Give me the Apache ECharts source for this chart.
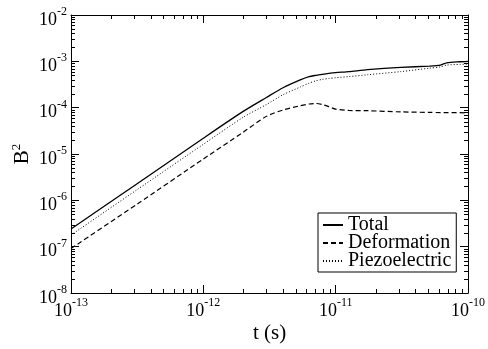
<!DOCTYPE html>
<html>
<head>
<meta charset="utf-8">
<script src="https://cdn.jsdelivr.net/npm/echarts@6/dist/echarts.min.js"></script>
<style>html,body{margin:0;padding:0;background:#fff}#c{width:488px;height:349px}</style>
</head>
<body>
<div id="c"></div>
<script>
// time (s)
const tVals = [1e-13, 3.16e-13, 1e-12, 2e-12, 3e-12, 4e-12, 5.4e-12, 6.3e-12, 7.1e-12, 7.9e-12, 8.9e-12, 1e-11, 1.26e-11, 1.74e-11, 3.1e-11, 5.1e-11, 6.2e-11, 6.9e-11, 8.7e-11, 1e-10];
// B^2 values
const totalVals = [2.4e-7, 2.29e-6, 2.19e-5, 8.3e-5, 1.66e-4, 2.69e-4, 3.98e-4, 4.68e-4, 5.0e-4, 5.25e-4, 5.5e-4, 5.7e-4, 6.0e-4, 6.6e-4, 7.4e-4, 7.9e-4, 8.3e-4, 9.3e-4, 9.8e-4, 1.0e-3];
const deformationVals = [9.1e-8, 8.3e-7, 7.8e-6, 2.95e-5, 6.5e-5, 8.9e-5, 1.1e-4, 1.2e-4, 1.23e-4, 1.17e-4, 1.05e-4, 9.3e-5, 8.7e-5, 8.6e-5, 8.1e-5, 7.9e-5, 7.85e-5, 7.8e-5, 7.8e-5, 7.7e-5];
const piezoVals = [1.78e-7, 1.70e-6, 1.62e-5, 6.2e-5, 1.17e-4, 1.9e-4, 2.79e-4, 3.39e-4, 3.8e-4, 4.07e-4, 4.27e-4, 4.42e-4, 4.68e-4, 5.13e-4, 6.0e-4, 7.1e-4, 7.6e-4, 8.3e-4, 8.6e-4, 8.7e-4];
const seriesNames = ['Total', 'Deformation', 'Piezoelectric'];
const xMin = 1e-13, xMax = 1e-10, yMin = 1e-8, yMax = 1e-2;

const pair = (ys) => tVals.map((t, i) => [t, ys[i]]);
function minorValues(lo, hi) {
  const out = [];
  for (let e = Math.round(Math.log10(lo)); e < Math.round(Math.log10(hi)); e++) {
    for (let m = 2; m <= 9; m++) out.push(m * Math.pow(10, e));
  }
  return out;
}
const FONT = '"Liberation Serif", "DejaVu Serif", serif';
const expLabel = (v) => '{a|10}{b|' + Math.round(Math.log10(v)) + '}';
const labelRich = {
  a: {fontSize: 18, fontFamily: FONT, color: '#000'},
  b: {fontSize: 12, fontFamily: FONT, color: '#000', padding: [0, 0, 16, 0]}
};
const axisCommon = {
  type: 'log', logBase: 10,
  axisLine: {show: true, lineStyle: {color: '#000', width: 1}},
  axisTick: {show: true, inside: true, length: 8, lineStyle: {color: '#000', width: 1}},
  splitLine: {show: false},
  minorTick: {show: false},
};
const chart = echarts.init(document.getElementById('c'), null, {renderer: 'canvas'});
const lineStyleFor = [
  {color: '#000', width: 1.3, type: 'solid'},
  {color: '#000', width: 1.2, type: [5, 3]},
  {color: '#000', width: 1, type: [1, 2]}
];
const valsFor = [totalVals, deformationVals, piezoVals];
chart.setOption({
  animation: false,
  backgroundColor: '#fff',
  grid: {left: 71, right: 20, top: 15, bottom: 55},
  legend: {
    data: seriesNames, orient: 'vertical', left: 318, top: 213,
    borderColor: '#000', borderWidth: 1, borderRadius: 0,
    padding: [2, 5, 1, 4], itemWidth: 20, itemHeight: 12, itemGap: -2,
    itemStyle: {color: 'rgba(0,0,0,0)', borderWidth: 0, opacity: 0},
    textStyle: {fontFamily: FONT, fontSize: 20, color: '#000'},
    inactiveColor: '#000'
  },
  xAxis: [
    Object.assign({}, axisCommon, {
      min: xMin, max: xMax, position: 'bottom',
      name: 't (s)', nameLocation: 'middle', nameGap: 30, nameMoveOverlap: false,
      nameTextStyle: {fontFamily: FONT, fontSize: 21, color: '#000'},
      axisLabel: {show: true, formatter: expLabel, rich: labelRich, margin: 4, showMinLabel: true, showMaxLabel: true, hideOverlap: false}
    }),
    Object.assign({}, axisCommon, {
      min: xMin, max: xMax, position: 'top', axisLabel: {show: false}
    })
  ],
  yAxis: [
    Object.assign({}, axisCommon, {
      min: yMin, max: yMax, position: 'left',
      name: '{a|B}{b|2}', nameLocation: 'middle', nameGap: 36, nameRotate: 90, nameMoveOverlap: false,
      nameTextStyle: {rich: {
        a: {fontFamily: FONT, fontSize: 21, color: '#000'},
        b: {fontFamily: FONT, fontSize: 13, color: '#000', padding: [0, 0, 12, 0]}
      }},
      axisLabel: {show: true, formatter: expLabel, rich: labelRich, margin: 4, padding: [10, 0, 0, 0], showMinLabel: true, showMaxLabel: true, hideOverlap: false}
    }),
    Object.assign({}, axisCommon, {
      min: yMin, max: yMax, position: 'right', axisLabel: {show: false}
    })
  ],
  series: seriesNames.map((name, i) => ({
    name, type: 'line', data: pair(valsFor[i]), showSymbol: false, symbol: 'none',
    smooth: 0.25, lineStyle: lineStyleFor[i], itemStyle: {color: 'rgba(0,0,0,0)'},
    xAxisIndex: 0, yAxisIndex: 0, silent: true, z: 3
  })).concat([
    {
      type: 'custom', silent: true, clip: false, xAxisIndex: 0, yAxisIndex: 0,
      data: minorValues(xMin, xMax).map(v => [v, yMin]),
      renderItem: (params, api) => {
        const v = api.value(0);
        const pb = api.coord([v, yMin]);
        const pt = api.coord([v, yMax]);
        const x = Math.round(pb[0]) + 0.5;
        return {type: 'group', children: [
          {type: 'line', shape: {x1: x, y1: pb[1], x2: x, y2: pb[1] - 4}, style: {stroke: '#000', lineWidth: 1}},
          {type: 'line', shape: {x1: x, y1: pt[1], x2: x, y2: pt[1] + 4}, style: {stroke: '#000', lineWidth: 1}}
        ]};
      }
    },
    {
      type: 'custom', silent: true, clip: false, xAxisIndex: 0, yAxisIndex: 0,
      data: minorValues(yMin, yMax).map(v => [xMin, v]),
      renderItem: (params, api) => {
        const v = api.value(1);
        const pl = api.coord([xMin, v]);
        const pr = api.coord([xMax, v]);
        const y = Math.round(pl[1]) + 0.5;
        return {type: 'group', children: [
          {type: 'line', shape: {x1: pl[0], y1: y, x2: pl[0] + 4, y2: y}, style: {stroke: '#000', lineWidth: 1}},
          {type: 'line', shape: {x1: pr[0], y1: y, x2: pr[0] - 4, y2: y}, style: {stroke: '#000', lineWidth: 1}}
        ]};
      }
    }
  ])
});
</script>
</body>
</html>
